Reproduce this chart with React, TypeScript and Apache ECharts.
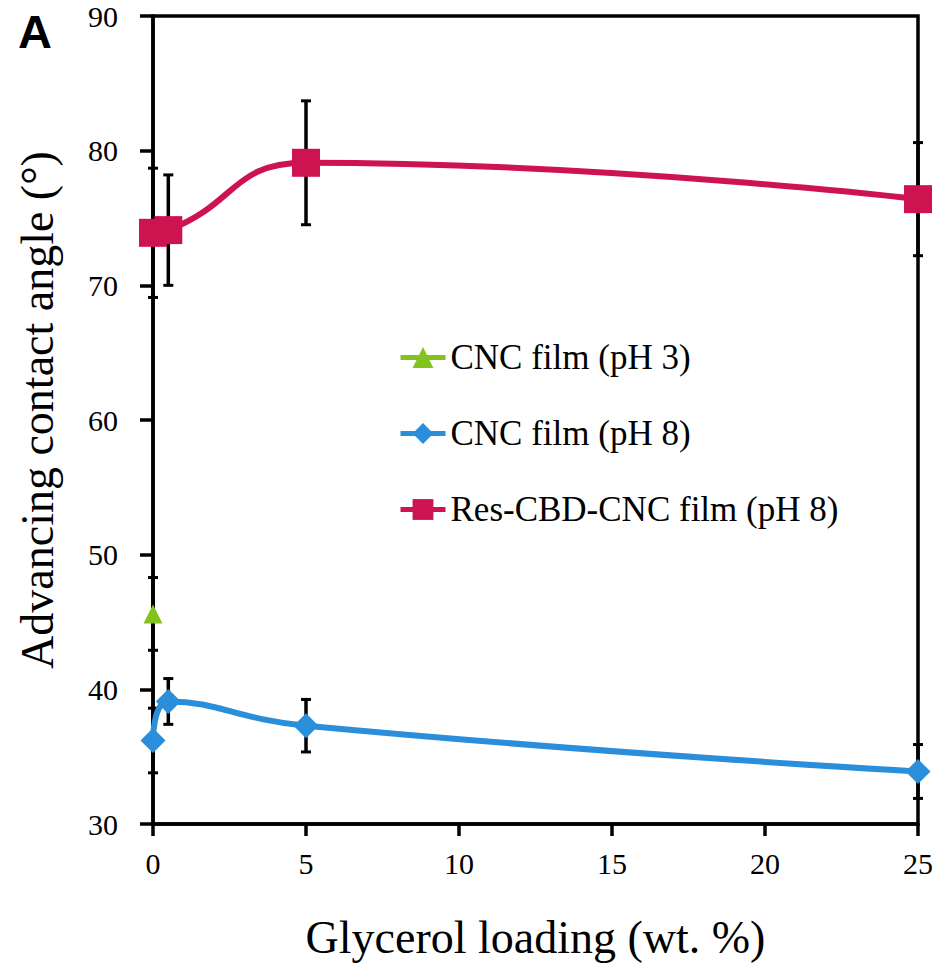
import React, { useEffect, useRef } from "react";
import * as echarts from "echarts";

const glycerol = [0, 0.5, 5, 25];
const resCbdMean = [73.9, 74.1, 79.1, 76.4];
const resCbdErr = [4.8, 4.1, 4.6, 4.2];
const cncPh8Mean = [36.2, 39.1, 37.3, 33.9];
const cncPh8Err = [2.4, 1.7, 1.95, 2.0];
const cncPh3X = [0];
const cncPh3Mean = [45.6];
const cncPh3Err = [2.7];

const seriesNames = ["CNC film (pH 3)", "CNC film (pH 8)", "Res-CBD-CNC film (pH 8)"];
const xTitle = "Glycerol loading (wt. %)";
const yTitle = "Advancing contact angle (°)";
const panelLabel = "A";

const RED = "#CD1450";
const BLUE = "#2A8EDB";
const GREEN = "#82C31E";
const SERIF = "Liberation Serif, Times New Roman, serif";

function pairs(xs: number[], ys: number[]) {
  return xs.map((x, i) => [x, ys[i]]);
}
function errRows(xs: number[], ys: number[], es: number[]) {
  return xs.map((x, i) => [x, ys[i] - es[i], ys[i] + es[i]]);
}

export default function App() {
  const ref = useRef<HTMLDivElement>(null);
  useEffect(() => {
    if (!ref.current) return;
    const chart = echarts.init(ref.current, undefined, { renderer: "svg" });
    const errData = [
      ...errRows(glycerol, resCbdMean, resCbdErr),
      ...errRows(glycerol, cncPh8Mean, cncPh8Err),
      ...errRows(cncPh3X, cncPh3Mean, cncPh3Err),
    ];
    chart.setOption({
      animation: false,
      backgroundColor: "#fff",
      textStyle: { fontFamily: SERIF },
      grid: {
        left: 153,
        top: 16,
        right: 20,
        bottom: 143,
        show: true,
        borderColor: "#000",
        borderWidth: 3.5,
      },
      graphic: [
        {
          type: "text",
          left: 18,
          top: 8,
          style: {
            text: panelLabel,
            fontFamily: "Liberation Sans, Arial, sans-serif",
            fontWeight: "bold",
            fontSize: 47,
            fill: "#000",
          },
        },
      ],
      legend: {
        orient: "vertical",
        left: 393,
        top: 335,
        itemWidth: 45,
        itemHeight: 26,
        itemGap: 41,
        data: seriesNames,
        lineStyle: { width: 5 },
        textStyle: { fontFamily: SERIF, fontSize: 35, color: "#000" },
      },
      xAxis: {
        type: "value",
        min: 0,
        max: 25,
        interval: 5,
        name: xTitle,
        nameLocation: "middle",
        nameGap: 90,
        nameTextStyle: { fontFamily: SERIF, fontSize: 46, color: "#000" },
        axisLine: { show: true, onZero: false, lineStyle: { color: "#000", width: 3.5 } },
        axisTick: { show: true, inside: false, length: 12, lineStyle: { color: "#000", width: 3.5 } },
        axisLabel: { fontFamily: SERIF, fontSize: 30, color: "#000", margin: 24 },
        splitLine: { show: false },
      },
      yAxis: {
        type: "value",
        min: 30,
        max: 90,
        interval: 10,
        name: yTitle,
        nameLocation: "middle",
        nameGap: 93,
        nameRotate: 90,
        nameTextStyle: { fontFamily: SERIF, fontSize: 46, color: "#000", padding: [0, 0, 0, 20] },
        axisLine: { show: true, onZero: false, lineStyle: { color: "#000", width: 3.5 } },
        axisTick: { show: true, inside: false, length: 13, lineStyle: { color: "#000", width: 3.5 } },
        axisLabel: { fontFamily: SERIF, fontSize: 30, color: "#000", margin: 35 },
        splitLine: { show: false },
      },
      series: [
        {
          type: "custom",
          name: "error",
          z: 1,
          encode: { x: 0, y: [1, 2] },
          data: errData,
          renderItem: (params: any, api: any) => {
            const x = api.value(0);
            const lo = api.value(1);
            const hi = api.value(2);
            const top = api.coord([x, hi]);
            const bot = api.coord([x, lo]);
            const cw = 5;
            const st = { stroke: "#000", lineWidth: 3.5 };
            const cs = { stroke: "#000", lineWidth: 3 };
            return {
              type: "group",
              children: [
                { type: "line", shape: { x1: top[0], y1: top[1], x2: bot[0], y2: bot[1] }, style: st },
                { type: "line", shape: { x1: top[0] - cw, y1: top[1], x2: top[0] + cw, y2: top[1] }, style: cs },
                { type: "line", shape: { x1: bot[0] - cw, y1: bot[1], x2: bot[0] + cw, y2: bot[1] }, style: cs },
              ],
            };
          },
        },
        {
          type: "line",
          name: seriesNames[0],
          z: 3,
          clip: false,
          data: pairs(cncPh3X, cncPh3Mean),
          symbol: "triangle",
          symbolSize: 19,
          itemStyle: { color: GREEN },
          lineStyle: { color: GREEN, width: 5 },
        },
        {
          type: "line",
          name: seriesNames[1],
          z: 3,
          clip: false,
          smooth: 0.5,
          data: pairs(glycerol, cncPh8Mean),
          symbol: "diamond",
          symbolSize: 25,
          itemStyle: { color: BLUE },
          lineStyle: { color: BLUE, width: 6 },
        },
        {
          type: "line",
          name: seriesNames[2],
          z: 3,
          clip: false,
          smooth: 0.5,
          data: pairs(glycerol, resCbdMean),
          symbol: "rect",
          symbolSize: 28,
          itemStyle: { color: RED },
          lineStyle: { color: RED, width: 6 },
        },
      ],
    });
    return () => chart.dispose();
  }, []);
  return (
    <div
      ref={ref}
      style={{ position: "fixed", left: 0, top: 0, width: 938, height: 967, background: "#fff" }}
    />
  );
}
